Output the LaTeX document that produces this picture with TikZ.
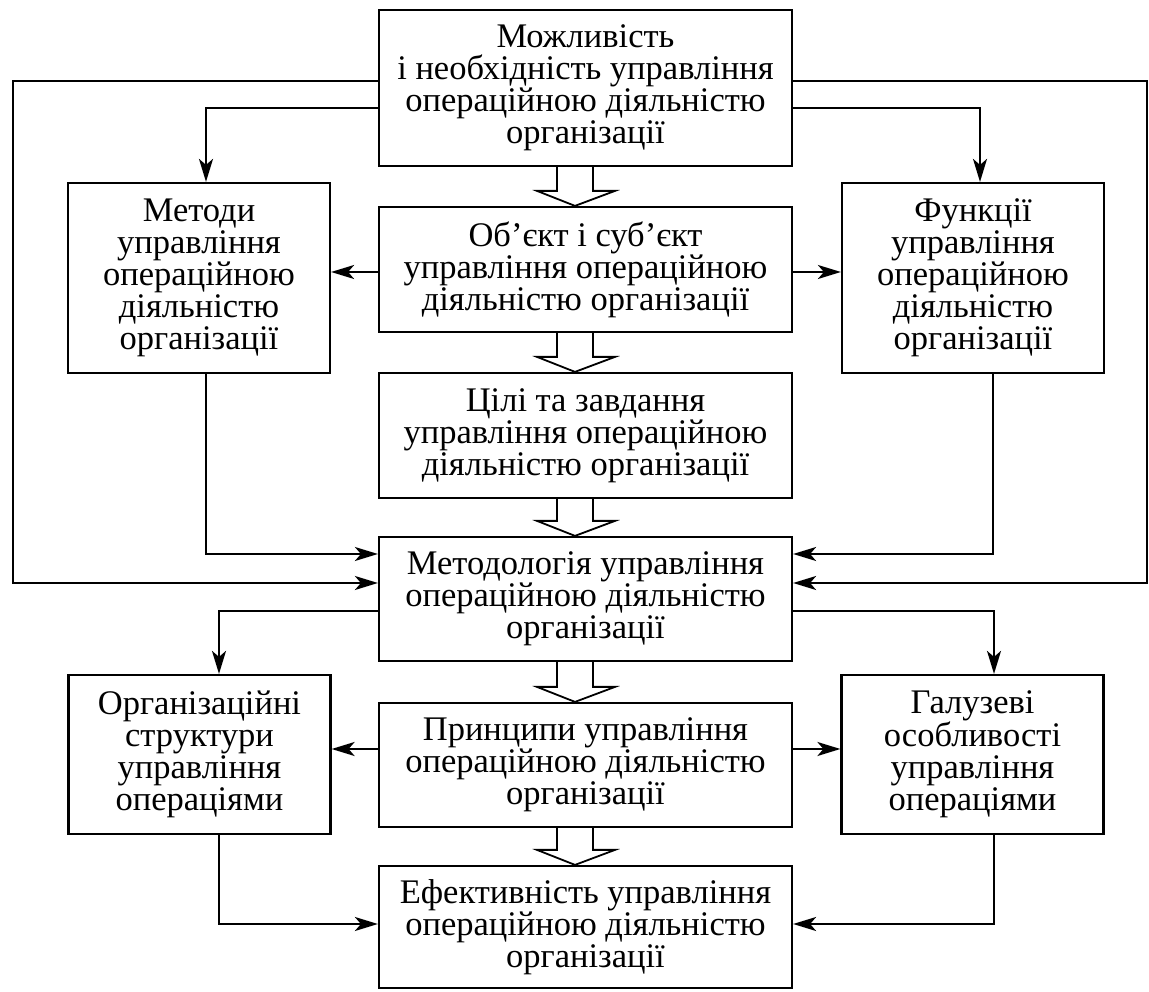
\documentclass[tikz,border=0pt]{standalone}
\usepackage{fontspec}
\setmainfont{Liberation Serif}
\usetikzlibrary{arrows.meta,calc}
\newcommand{\hollowarr}[2]{\draw[line width=1.8pt] let \p1=(#1.south), \p2=(#2.north) in
  (557pt,\y1) -- (557pt,\y2+15pt) -- (537pt,\y2+15pt) -- (575pt,\y2) -- (615pt,\y2+15pt) -- (593pt,\y2+15pt) -- (593pt,\y1);}
\begin{document}
\begin{tikzpicture}[x=1pt,y=1pt,
  box/.style={draw, line width=2.2pt, inner sep=0pt, align=center,
    font=\fontsize{34.5}{32}\selectfont},
  wide/.style={box, minimum width=413pt},
  side/.style={box, minimum width=262pt},
  arr/.style={line width=2.2pt, -{Stealth[length=23pt,width=14pt,inset=6pt]}}]
\fill[white] (0,0) rectangle (1149,991);
\useasboundingbox (0,0) rectangle (1149,991);
% nodes
\node[wide, minimum height=156pt] (T) at (585.5,903) {Можливість\\і необхідність управління\\операційною діяльністю\\організації};
\node[side, minimum height=190pt] (M) at (199,713) {Методи\\управління\\операційною\\діяльністю\\організації};
\node[wide, minimum height=125pt] (O) at (585.5,721.5) {Об’єкт і суб’єкт\\управління операційною\\діяльністю організації};
\node[side, minimum height=190pt] (F) at (973,713) {Функції\\управління\\операційною\\діяльністю\\організації};
\node[wide, minimum height=125pt] (C) at (585.5,555.5) {Цілі та завдання\\управління операційною\\діяльністю організації};
\node[wide, minimum height=124pt] (Mth) at (585.5,392) {Методологія управління\\операційною діяльністю\\організації};
\node[side, minimum height=159pt] (Org) at (199.5,236.5) {Організаційні\\структури\\управління\\операціями};
\node[wide, minimum height=124pt] (P) at (585.5,226) {Принципи управління\\операційною діяльністю\\організації};
\node[side, minimum height=159pt] (G) at (972.5,236.5) {Галузеві\\особливості\\управління\\операціями};
\node[wide, minimum height=122pt] (E) at (585.5,64) {Ефективність управління\\операційною діяльністю\\організації};
% helper coordinates
\coordinate (yLoop) at (0,910);
\coordinate (ySide) at (0,883);
\coordinate (yLoopIn) at (0,408);
\coordinate (yIn) at (0,437);
\coordinate (yOut) at (0,380);
\coordinate (yO) at (0,719);
\coordinate (yP) at (0,242);
\coordinate (yE) at (0,67);
\coordinate (xL) at (13,0);
\coordinate (xR) at (1147,0);
\coordinate (xM) at (206,0);
\coordinate (xF) at (980,0);
\coordinate (xFb) at (993,0);
\coordinate (xOrg) at (219,0);
\coordinate (xG) at (994,0);
% connectors
\draw[arr] (T.west |- yLoop) -| (xL |- yLoopIn) -- (Mth.west |- yLoopIn);
\draw[arr] (T.east |- yLoop) -| (xR |- yLoopIn) -- (Mth.east |- yLoopIn);
\draw[arr] (T.west |- ySide) -| (xM |- M.north);
\draw[arr] (T.east |- ySide) -| (xF |- F.north);
\draw[arr] (O.west |- yO) -- (M.east |- yO);
\draw[arr] (O.east |- yO) -- (F.west |- yO);
\draw[arr] (xM |- M.south) |- (Mth.west |- yIn);
\draw[arr] (xFb |- F.south) |- (Mth.east |- yIn);
\draw[arr] (Mth.west |- yOut) -| (xOrg |- Org.north);
\draw[arr] (Mth.east |- yOut) -| (xG |- G.north);
\draw[arr] (P.west |- yP) -- (Org.east |- yP);
\draw[arr] (P.east |- yP) -- (G.west |- yP);
\draw[arr] (xOrg |- Org.south) |- (E.west |- yE);
\draw[arr] (xG |- G.south) |- (E.east |- yE);
% hollow arrows
\hollowarr{T}{O}
\hollowarr{O}{C}
\hollowarr{C}{Mth}
\hollowarr{Mth}{P}
\hollowarr{P}{E}
\end{tikzpicture}
\end{document}
